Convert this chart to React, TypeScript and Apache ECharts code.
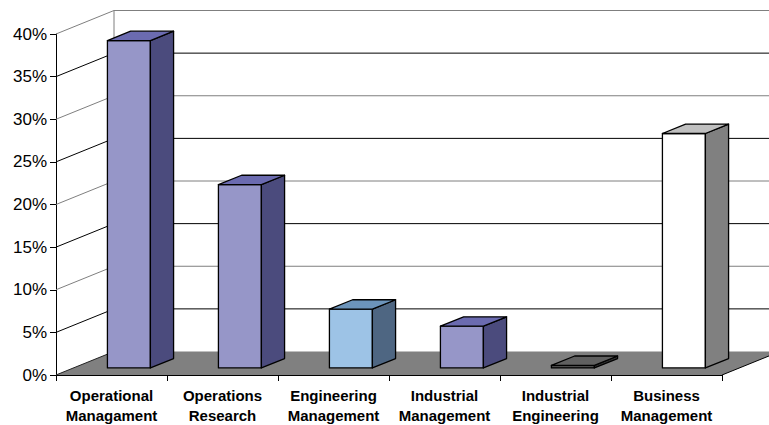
import React, { useEffect, useRef } from "react";
import * as echarts from "echarts";

const categories = [
  "Operational\nManagament",
  "Operations\nResearch",
  "Engineering\nManagement",
  "Industrial\nManagement",
  "Industrial\nEngineering",
  "Business\nManagement",
];
const shares = [0.384, 0.215, 0.069, 0.049, 0.003, 0.275];
const tickValues = [0, 0.05, 0.1, 0.15, 0.2, 0.25, 0.3, 0.35, 0.4];

const faceColors = ["#9696c8", "#9696c8", "#9dc3e6", "#9696c8", "#4a4a4a", "#ffffff"];
const sideColors = ["#4b4b7d", "#4b4b7d", "#4e6682", "#4b4b7d", "#333333", "#808080"];
const topColors = ["#6b6bb0", "#6b6bb0", "#6c94bb", "#6b6bb0", "#606060", "#c0c0c0"];

const DX = 58;
const DY = -23.5;
const FRONT = 0.3;
const BACK = 0.7;
const BAR_W = 0.387;
const FONT = "'Liberation Sans', Arial, sans-serif";

export default function App() {
  const ref = useRef<HTMLDivElement>(null);
  useEffect(() => {
    if (!ref.current) return;
    const chart = echarts.init(ref.current, undefined, { renderer: "svg" });
    const option: any = {
      animation: false,
      grid: { left: 56, right: 47, top: 34, bottom: 48 },
      xAxis: {
        type: "category",
        data: categories,
        boundaryGap: true,
        axisLine: { show: true, lineStyle: { color: "#000", width: 1 } },
        axisTick: { show: true, length: 6, lineStyle: { color: "#000" } },
        axisLabel: {
          interval: 0,
          color: "#000",
          fontFamily: FONT,
          fontWeight: "bold",
          fontSize: 15,
          lineHeight: 20,
          margin: 10,
        },
        splitLine: { show: false },
      },
      yAxis: {
        type: "value",
        min: 0,
        max: 0.4,
        interval: 0.05,
        axisLine: { show: true, lineStyle: { color: "#000", width: 1 } },
        axisTick: { show: true, length: 6, lineStyle: { color: "#000" } },
        axisLabel: {
          color: "#000",
          fontFamily: FONT,
          fontSize: 17,
          margin: 9,
          formatter: (v: number) => Math.round(v * 100) + "%",
        },
        splitLine: { show: false },
      },
      series: [
        {
          type: "custom",
          name: "walls",
          z: 1,
          silent: true,
          data: tickValues.map((v) => [0, v]),
          renderItem: (params: any, api: any) => {
            const v = api.value(1);
            const cs = params.coordSys;
            const left = cs.x;
            const right = cs.x + cs.width;
            const y = api.coord([0, v])[1];
            const children: any[] = [];
            const major = Math.round(v * 100) % 10 === 0;
            const lineColor = major ? "#7f7f7f" : "#000";
            if (v === 0) {
              children.push({
                type: "polygon",
                shape: { points: [[left, y], [right, y], [right + DX, y + DY], [left + DX, y + DY]] },
                style: { fill: "#808080" },
              });
              children.push({
                type: "line",
                shape: { x1: right, y1: y, x2: right + DX, y2: y + DY },
                style: { stroke: "#000", lineWidth: 1 },
              });
              children.push({
                type: "line",
                shape: { x1: left + DX, y1: y + DY, x2: left + DX, y2: cs.y + DY },
                style: { stroke: "#7f7f7f", lineWidth: 1 },
              });
              children.push({
                type: "line",
                shape: { x1: left, y1: y, x2: left + DX, y2: y + DY },
                style: { stroke: "#222", lineWidth: 1 },
              });
            } else {
              children.push({
                type: "line",
                shape: { x1: left + DX, y1: y + DY, x2: right + DX, y2: y + DY },
                style: { stroke: lineColor, lineWidth: 1 },
              });
              children.push({
                type: "line",
                shape: { x1: left, y1: y, x2: left + DX, y2: y + DY },
                style: { stroke: lineColor, lineWidth: 1 },
              });
            }
            return { type: "group", children };
          },
        },
        {
          type: "custom",
          name: "share",
          z: 3,
          data: shares.map((v, i) => [i, v]),
          renderItem: (params: any, api: any) => {
            const i = api.value(0);
            const v = api.value(1);
            const base = api.coord([i, 0]);
            const top = api.coord([i, v]);
            const band = api.size([1, 0])[0];
            const w = band * BAR_W;
            const x1 = base[0] - w / 2 + DX * FRONT;
            const x2 = x1 + w;
            const yb = base[1] + DY * FRONT;
            const yt = top[1] + DY * FRONT;
            const ddx = DX * (BACK - FRONT);
            const ddy = DY * (BACK - FRONT);
            const idx = params.dataIndex;
            const st = { stroke: "#000", lineWidth: 1.3, lineJoin: "round" };
            return {
              type: "group",
              children: [
                {
                  type: "polygon",
                  shape: { points: [[x1, yb], [x2, yb], [x2, yt], [x1, yt]] },
                  style: { ...st, fill: faceColors[idx] },
                },
                {
                  type: "polygon",
                  shape: { points: [[x2, yb], [x2 + ddx, yb + ddy], [x2 + ddx, yt + ddy], [x2, yt]] },
                  style: { ...st, fill: sideColors[idx] },
                },
                {
                  type: "polygon",
                  shape: { points: [[x1, yt], [x2, yt], [x2 + ddx, yt + ddy], [x1 + ddx, yt + ddy]] },
                  style: { ...st, fill: topColors[idx] },
                },
              ],
            };
          },
        },
      ],
    };
    chart.setOption(option);
    return () => chart.dispose();
  }, []);
  return (
    <div
      ref={ref}
      style={{ position: "absolute", left: 0, top: 0, width: 769, height: 425, background: "#fff" }}
    />
  );
}
